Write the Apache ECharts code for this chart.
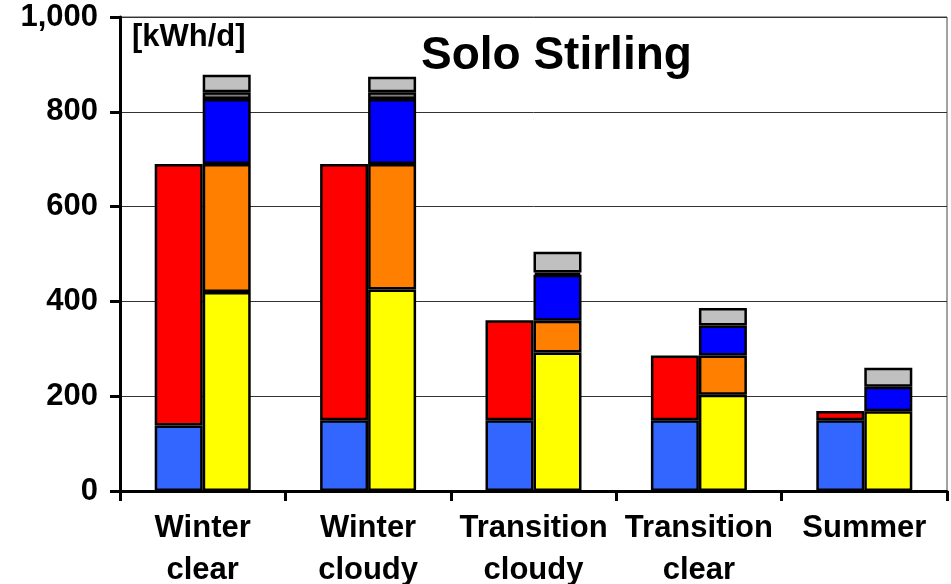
<!DOCTYPE html>
<html>
<head>
<meta charset="utf-8">
<script src="https://cdn.jsdelivr.net/npm/echarts@6/dist/echarts.min.js"></script>
<style>
html,body{margin:0;padding:0;background:#fff;}
#chart{width:951px;height:584px;}
</style>
</head>
<body>
<div id="chart"></div>
<script>
// Categories
const categories = ['Winter\nclear', 'Winter\ncloudy', 'Transition\ncloudy', 'Transition\nclear', 'Summer'];
// Left stack (segment heights, kWh/d)
const leftBlue = [138, 149, 149, 149, 149];
const leftRed = [552, 541, 211, 137, 20];
// Right stack (segment heights, kWh/d)
const rightYellow = [420, 425, 292, 203, 168];
const rightOrange = [270, 265, 67, 83, null];
const rightBlue = [137, 137, 97, 63, 52];
const rightDarkGray = [14, 14, 5, null, null];
const rightGray = [37, 33, 44, 37, 40];
// Axis
const yTicks = [0, 200, 400, 600, 800, 1000];
const titleText = 'Solo Stirling';
const unitText = '[kWh/d]';

const FONT = '"Liberation Sans", Arial, sans-serif';
const chart = echarts.init(document.getElementById('chart'), null, {renderer: 'canvas'});

function seg(name, stack, data, color) {
  return {
    name: name, type: 'bar', stack: stack, data: data,
    barWidth: 48, barGap: '0%',
    itemStyle: {color: color, borderColor: '#000', borderWidth: 2.5},
    emphasis: {disabled: true}
  };
}

chart.setOption({
  animation: false,
  backgroundColor: '#fff',
  grid: {left: 120, right: 4, top: 17, bottom: 93, show: true, borderColor: '#444', borderWidth: 1,
         containLabel: false, outerBoundsMode: 'none'},
  xAxis: {
    type: 'category', data: categories,
    axisLine: {lineStyle: {color: '#000', width: 3}},
    axisTick: {show: true, alignWithLabel: false, length: 10, lineStyle: {color: '#000', width: 3}},
    axisLabel: {color: '#000', fontFamily: FONT, fontWeight: 'bold', fontSize: 31, lineHeight: 42, margin: 16, interval: 0}
  },
  yAxis: {
    type: 'value', min: yTicks[0], max: yTicks[yTicks.length - 1], interval: yTicks[1] - yTicks[0],
    axisLine: {show: true, lineStyle: {color: '#000', width: 3}},
    axisTick: {show: true, length: 10, lineStyle: {color: '#000', width: 3}},
    splitLine: {show: true, lineStyle: {color: '#333', width: 1}},
    axisLabel: {
      color: '#000', fontFamily: FONT, fontWeight: 'bold', fontSize: 31, margin: 22,
      formatter: v => String(v).replace(/\B(?=(\d{3})+(?!\d))/g, ',')
    }
  },
  graphic: [
    {type: 'text', left: 421, top: 33, style: {text: titleText, font: 'bold 46px ' + FONT, fill: '#000'}},
    {type: 'text', left: 132, top: 22, style: {text: unitText, font: 'bold 31px ' + FONT, fill: '#000'}}
  ],
  series: [
    seg('Left blue', 'L', leftBlue, '#3366FF'),
    seg('Left red', 'L', leftRed, '#FF0000'),
    seg('Yellow', 'R', rightYellow, '#FFFF00'),
    seg('Orange', 'R', rightOrange, '#FF8000'),
    seg('Blue', 'R', rightBlue, '#0000FF'),
    seg('Dark gray', 'R', rightDarkGray, '#808080'),
    seg('Gray', 'R', rightGray, '#C0C0C0')
  ]
});
</script>
</body>
</html>
